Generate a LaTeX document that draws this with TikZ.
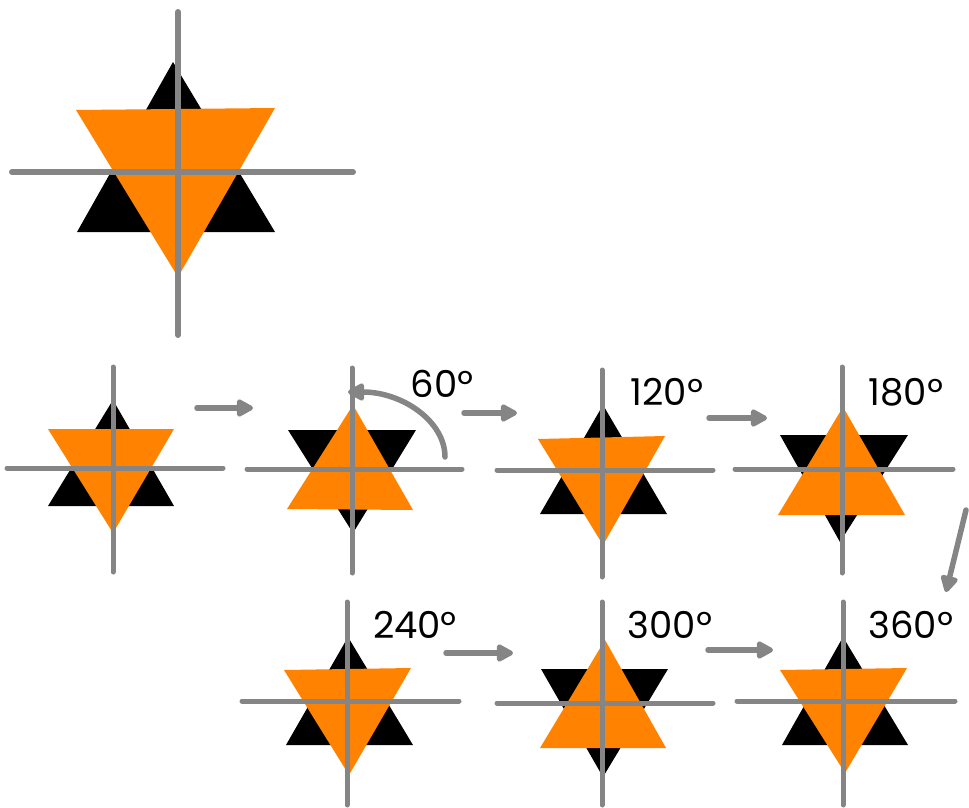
\documentclass[tikz,border=0pt]{standalone}
\usepackage{fontspec}
\setmainfont{Poppins}
\usetikzlibrary{arrows.meta}
\definecolor{axgray}{RGB}{133,133,133}
\definecolor{starorange}{RGB}{255,130,0}
\begin{document}
\begin{tikzpicture}[x=1pt,y=-1pt,
  axis/.style={draw=axgray,line width=5pt,line cap=round},
  bigaxis/.style={axis,line width=6pt},
  blk/.style={fill=black},
  org/.style={fill=starorange},
  flow/.style={draw=axgray,line width=5.5pt,line cap=round,-{Triangle[length=19pt,width=19pt,round]}},
  lbl/.style={font=\fontsize{37}{40}\selectfont,anchor=base,inner sep=0pt}]
\useasboundingbox (0,0) rectangle (969,808);
% big figure
\fill[blk] (173,62) -- (275,232) -- (77,232) -- cycle;
\fill[org] (76,110) -- (275,108) -- (178,277) -- cycle;
\draw[bigaxis] (178,12) -- (178,335);
\draw[bigaxis] (12,172) -- (353,172);
% A
\fill[blk] (113,400) -- (174,506) -- (48,506) -- cycle;
\fill[org] (48,429) -- (174,429) -- (113,533) -- cycle;
\draw[axis] (113,367) -- (113,572);
\draw[axis] (7,468) -- (223,468);
% B
\fill[blk] (288,430) -- (416,430) -- (353,533) -- cycle;
\fill[org] (353,405) -- (413,510) -- (287,509) -- cycle;
\draw[axis] (352,368) -- (352,573);
\draw[axis] (247,469) -- (462,469);
% C
\fill[blk] (603,405) -- (667,514) -- (540,514) -- cycle;
\fill[org] (538,439) -- (665,436) -- (603,545) -- cycle;
\draw[axis] (602,370) -- (602,577);
\draw[axis] (497,470) -- (713,470);
% D
\fill[blk] (780,435) -- (908,435) -- (840,542) -- cycle;
\fill[org] (843,407) -- (905,515) -- (778,515) -- cycle;
\draw[axis] (842,367) -- (842,573);
\draw[axis] (735,469) -- (953,469);
% E
\fill[blk] (348,637) -- (413,745) -- (286,745) -- cycle;
\fill[org] (284,670) -- (411,668) -- (349,775) -- cycle;
\draw[axis] (347,602) -- (347,805);
\draw[axis] (242,701) -- (459,701);
% F
\fill[blk] (541,669) -- (668,669) -- (603,777) -- cycle;
\fill[org] (605,640) -- (666,748) -- (540,748) -- cycle;
\draw[axis] (602,602) -- (602,805);
\draw[axis] (497,703) -- (713,703);
% G
\fill[blk] (843,637) -- (908,745) -- (782,745) -- cycle;
\fill[org] (780,670) -- (907,668) -- (845,773) -- cycle;
\draw[axis] (843,602) -- (843,805);
\draw[axis] (737,701) -- (955,701);
% arrow end points
\coordinate (a1s) at (197,408); \coordinate (a1e) at (253,408);
\coordinate (a2s) at (464,413); \coordinate (a2e) at (517,413);
\coordinate (a3s) at (709,418); \coordinate (a3e) at (767,418);
\coordinate (a4s) at (966,510); \coordinate (a4e) at (946,592);
\coordinate (a5s) at (446,653); \coordinate (a5e) at (513,653);
\coordinate (a6s) at (708,650); \coordinate (a6e) at (773,650);
\coordinate (r1s) at (445,457); \coordinate (r1e) at (348,392);
\draw[flow] (a1s) -- (a1e);
\draw[flow] (a2s) -- (a2e);
\draw[flow] (a3s) -- (a3e);
\draw[flow] (a4s) -- (a4e);
\draw[flow] (a5s) -- (a5e);
\draw[flow] (a6s) -- (a6e);
\draw[flow] (r1s) .. controls (445,421) and (402,392) .. (r1e);
% labels
\node[lbl] (l60) at (442,397) {60º};
\node[lbl] (l120) at (667,405) {120º};
\node[lbl] (l180) at (906,405) {180º};
\node[lbl] (l240) at (415,638) {240º};
\node[lbl] (l300) at (670,638) {300º};
\node[lbl] (l360) at (911,638) {360º};
\end{tikzpicture}
\end{document}
